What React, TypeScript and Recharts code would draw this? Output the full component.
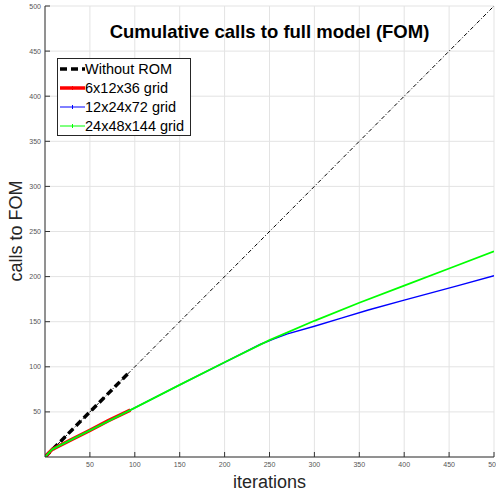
import React from 'react';
import { LineChart, Line, XAxis, YAxis, CartesianGrid } from 'recharts';

// axis ticks (no 0 label, like the MATLAB figure)
const tickValues = [50, 100, 150, 200, 250, 300, 350, 400, 450, 500];

// y = x reference (calls without ROM, extrapolated)
const diagIter = [0, 500];
const diagCalls = [0, 500];

// Without ROM (measured run)
const noRomIter = [0, 95];
const noRomCalls = [0, 95];

// 6x12x36 grid
const coarseIter = [0, 8, 30, 50, 70, 95];
const coarseCalls = [0, 8.5, 19.5, 29.5, 40, 52];

// 12x24x72 grid
const midIter = [0, 8, 50, 95, 150, 200, 240, 255, 270, 300, 330, 360, 400, 430, 460, 500];
const midCalls = [0, 8.5, 29.5, 52, 80, 105, 125, 131, 136.5, 145, 154, 163, 174, 182, 190, 201];

// 24x48x144 grid
const fineIter = [0, 8, 50, 95, 150, 200, 250, 300, 350, 400, 450, 500];
const fineCalls = [0, 8.5, 29.5, 52, 80, 105, 129.5, 151, 171, 190, 209, 228];

const zip = (xs: number[], ys: number[]) => xs.map((x, i) => ({ x, y: ys[i] }));

const FONT = '"Liberation Sans", Arial, Helvetica, sans-serif';
const AXIS = '#333333';
const TICK_TEXT = '#555555';

const LeftTick = (p: any) => (
  <g>
    <text x={p.x} y={p.y} textAnchor="end" dominantBaseline="central" fontSize={7} fill={TICK_TEXT} fontFamily={FONT}>
      {p.payload.value}
    </text>
    <line x1={p.x + 4} x2={p.x + 9} y1={p.y} y2={p.y} stroke={AXIS} />
  </g>
);

const BottomTick = (p: any) => (
  <g>
    <text x={p.x} y={p.y} textAnchor="middle" dy="0.71em" fontSize={7} fill={TICK_TEXT} fontFamily={FONT}>
      {p.payload.value}
    </text>
    <line x1={p.x} x2={p.x} y1={p.y - 5} y2={p.y - 10} stroke={AXIS} />
  </g>
);

const TopTick = (p: any) => <line x1={p.x} x2={p.x} y1={p.y} y2={p.y + 5} stroke={AXIS} />;
const RightTick = (p: any) => <line x1={p.x} x2={p.x - 5} y1={p.y} y2={p.y} stroke={AXIS} />;

const legendItems = [
  { name: 'Without ROM', color: '#000000', width: 3.5, dash: '7 4', marker: false },
  { name: '6x12x36 grid', color: '#ff0000', width: 3.5, dash: undefined, marker: true },
  { name: '12x24x72 grid', color: '#0000ff', width: 1, dash: undefined, marker: true },
  { name: '24x48x144 grid', color: '#00ff00', width: 1, dash: undefined, marker: true },
];

function LegendBox() {
  return (
    <div
      style={{
        position: 'absolute',
        left: 57,
        top: 58,
        width: 134,
        height: 78,
        border: '1px solid #262626',
        background: '#fff',
        boxSizing: 'border-box',
        fontFamily: FONT,
        fontSize: 14.5,
        paddingTop: 0,
      }}
    >
      {legendItems.map((it) => (
        <div key={it.name} style={{ display: 'flex', alignItems: 'center', height: 19.2 }}>
          <svg width={26} height={10} style={{ marginLeft: 1, flex: 'none' }}>
            <line x1={1} x2={26} y1={5} y2={5} stroke={it.color} strokeWidth={it.width} strokeDasharray={it.dash} />
            {it.marker && <line x1={13.5} x2={13.5} y1={3} y2={7} stroke={it.color} strokeWidth={1} />}
          </svg>
          <span style={{ color: '#000', whiteSpace: 'nowrap' }}>{it.name}</span>
        </div>
      ))}
    </div>
  );
}

export default function App() {
  return (
    <div style={{ position: 'absolute', left: 0, top: 0, width: 496, height: 495, background: '#fff', fontFamily: FONT }}>
      <LineChart width={496} height={495} margin={{ top: 6, right: 2, bottom: 0, left: 0 }}>
        <CartesianGrid stroke="#e3e3e3" strokeWidth={1} />
        <XAxis
          dataKey="x"
          type="number"
          domain={[0, 500]}
          ticks={tickValues}
          interval={0}
          allowDataOverflow
          height={38}
          tickSize={0}
          tickMargin={5}
          tick={BottomTick}
          stroke={AXIS}
          label={{ value: 'iterations', position: 'insideBottom', offset: 7, fontSize: 18, fill: '#262626', fontFamily: FONT }}
        />
        <XAxis
          xAxisId="top"
          orientation="top"
          dataKey="x"
          type="number"
          domain={[0, 500]}
          ticks={tickValues}
          interval={0}
          allowDataOverflow
          height={0}
          tickSize={0}
          tickMargin={0}
          tick={TopTick}
          stroke={AXIS}
        />
        <YAxis
          type="number"
          domain={[0, 500]}
          ticks={tickValues}
          interval={0}
          allowDataOverflow
          width={45}
          tickSize={0}
          tickMargin={4}
          tick={LeftTick}
          stroke={AXIS}
        />
        <YAxis
          yAxisId="right"
          orientation="right"
          type="number"
          domain={[0, 500]}
          ticks={tickValues}
          interval={0}
          allowDataOverflow
          width={0}
          tickSize={0}
          tickMargin={0}
          tick={RightTick}
          stroke={AXIS}
        />
        <Line data={zip(diagIter, diagCalls)} dataKey="y" type="linear" stroke="#000" strokeWidth={1} strokeDasharray="4 2 1 2" dot={false} isAnimationActive={false} />
        <Line data={zip(noRomIter, noRomCalls)} dataKey="y" type="linear" stroke="#000" strokeWidth={3.5} strokeDasharray="7 4" dot={false} isAnimationActive={false} />
        <Line data={zip(coarseIter, coarseCalls)} dataKey="y" type="linear" stroke="#ff0000" strokeWidth={3.5} dot={false} isAnimationActive={false} />
        <Line data={zip(midIter, midCalls)} dataKey="y" type="linear" stroke="#0000ff" strokeWidth={1.4} dot={false} isAnimationActive={false} />
        <Line data={zip(fineIter, fineCalls)} dataKey="y" type="linear" stroke="#00ff00" strokeWidth={1.8} dot={false} isAnimationActive={false} />
      </LineChart>
      <div
        style={{
          position: 'absolute',
          left: 45,
          width: 449,
          top: 21,
          textAlign: 'center',
          fontFamily: FONT,
          fontWeight: 'bold',
          fontSize: 18.5,
          color: '#000',
          lineHeight: '22px',
        }}
      >
        Cumulative calls to full model (FOM)
      </div>
      <div
        style={{
          position: 'absolute',
          left: 16,
          top: 231,
          transform: 'translate(-50%, -50%) rotate(-90deg)',
          fontFamily: FONT,
          fontSize: 18,
          color: '#262626',
          whiteSpace: 'nowrap',
        }}
      >
        calls to FOM
      </div>
      <LegendBox />
    </div>
  );
}
